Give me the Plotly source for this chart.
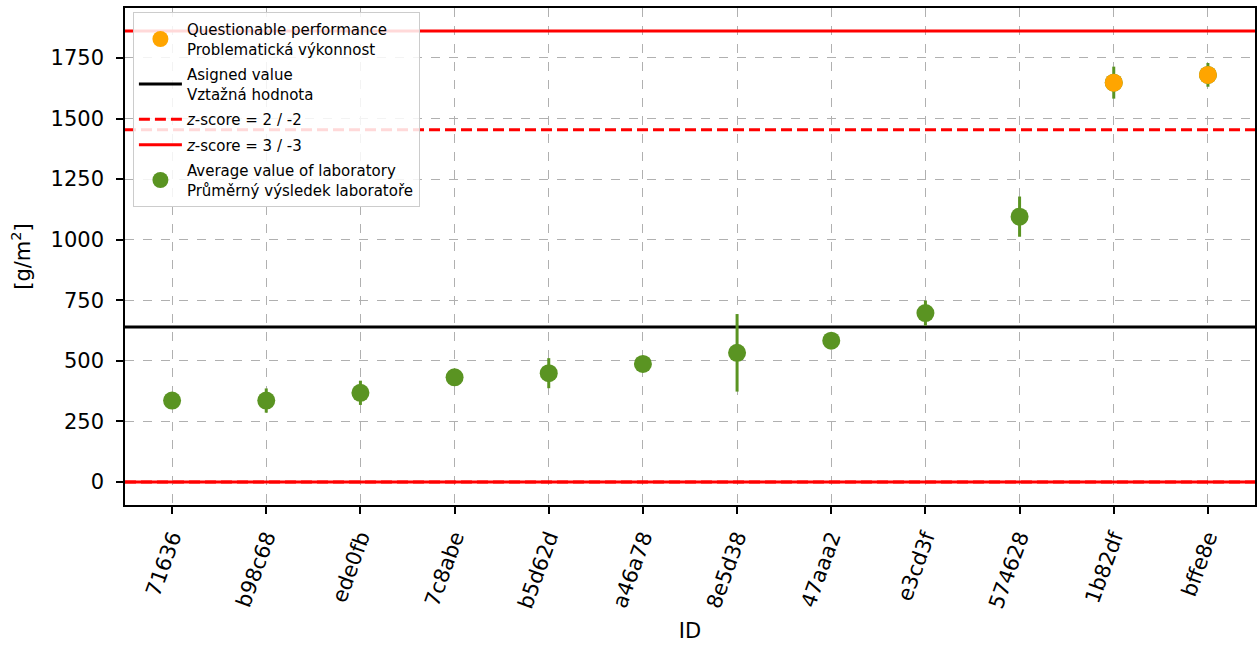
import plotly.graph_objects as go

ids = ["71636", "b98c68", "ede0fb", "7c8abe", "b5d62d", "a46a78",
       "8e5d38", "47aaa2", "e3cd3f", "574628", "1b82df", "bffe8e"]
means = [336, 336, 368, 432, 449, 487, 533, 583, 697, 1095, 1648, 1680]
errors = [8, 50, 50, 10, 62, 10, 160, 8, 52, 83, 66, 49]
questionable = [False, False, False, False, False, False,
                False, False, False, False, True, True]

assigned_value = 640
sigma = 407
z2_upper = assigned_value + 2 * sigma
z3_upper = assigned_value + 3 * sigma
z2_lower = max(0, assigned_value - 2 * sigma)
z3_lower = max(0, assigned_value - 3 * sigma)

x_idx = list(range(len(ids)))
x_span = [-0.5, len(ids) - 0.5]

GREEN = "#5a9422"
ORANGE = "#ffa500"
RED = "#ff0000"
FONT = "DejaVu Sans"

fig = go.Figure()

fig.add_trace(go.Scatter(x=x_span, y=[z3_upper, z3_upper], mode="lines",
                         line=dict(color=RED, width=3), legendgroup="z3",
                         name="<i>z</i>-score = 3 / -3", legendrank=4))
fig.add_trace(go.Scatter(x=x_span, y=[z3_lower, z3_lower], mode="lines",
                         line=dict(color=RED, width=3), legendgroup="z3",
                         showlegend=False, legendrank=4))
fig.add_trace(go.Scatter(x=x_span, y=[z2_upper, z2_upper], mode="lines",
                         line=dict(color=RED, width=3, dash="11px,5px"),
                         legendgroup="z2",
                         name="<i>z</i>-score = 2 / -2", legendrank=3))
fig.add_trace(go.Scatter(x=x_span, y=[z2_lower, z2_lower], mode="lines",
                         line=dict(color=RED, width=3, dash="11px,5px"),
                         legendgroup="z2", showlegend=False, legendrank=3))
fig.add_trace(go.Scatter(x=x_span, y=[assigned_value, assigned_value], mode="lines",
                         line=dict(color="black", width=3), legendgroup="av",
                         name="Asigned value<br>Vztažná hodnota", legendrank=2))

fig.add_trace(go.Scatter(
    x=x_idx, y=means, mode="markers",
    marker=dict(color=GREEN, size=18),
    error_y=dict(type="data", array=errors, color=GREEN, thickness=3, width=0),
    legendgroup="lab",
    name="Average value of laboratory<br>Průměrný výsledek laboratoře",
    legendrank=5))

qx = [x for x, q in zip(x_idx, questionable) if q]
qy = [m for m, q in zip(means, questionable) if q]
fig.add_trace(go.Scatter(
    x=qx, y=qy, mode="markers",
    marker=dict(color=ORANGE, size=18), legendgroup="q",
    name="Questionable performance<br>Problematická výkonnost",
    legendrank=1))

fig.update_layout(
    width=1260, height=648,
    margin=dict(l=125, r=3, t=8, b=143),
    paper_bgcolor="white", plot_bgcolor="white",
    font=dict(family=FONT, size=21, color="black"),
    legend=dict(x=0.007, y=0.992, xanchor="left", yanchor="top",
                bgcolor="rgba(255,255,255,0.85)", bordercolor="#cccccc",
                borderwidth=1, font=dict(size=15, family=FONT),
                traceorder="grouped", itemwidth=43, tracegroupgap=3),
    showlegend=True,
)

fig.update_xaxes(
    range=x_span, tickmode="array", tickvals=x_idx, ticktext=ids,
    tickangle=-70, ticks="outside", ticklen=7, tickwidth=1.5, tickcolor="black",
    ticklabelstandoff=3,
    showline=True, linecolor="black", linewidth=1.5, mirror=True,
    showgrid=True, gridcolor="#b0b0b0", griddash="dash", gridwidth=1,
    zeroline=False,
    title=dict(text="ID", font=dict(size=21), standoff=12),
    tickfont=dict(size=21),
)
fig.update_yaxes(
    range=[-95, 1956], tickmode="array",
    tickvals=[0, 250, 500, 750, 1000, 1250, 1500, 1750],
    ticks="outside", ticklen=7, tickwidth=1.5, tickcolor="black",
    ticklabelstandoff=8,
    showline=True, linecolor="black", linewidth=1.5, mirror=True,
    showgrid=True, gridcolor="#b0b0b0", griddash="dash", gridwidth=1,
    zeroline=False,
    title=dict(text="[g/m<sup>2</sup>]", font=dict(size=21), standoff=14),
    tickfont=dict(size=21),
)

fig.write_html(
    "out.html",
    config={"displayModeBar": False},
    post_script="document.body.style.margin='0';document.body.style.overflow='hidden';",
)
